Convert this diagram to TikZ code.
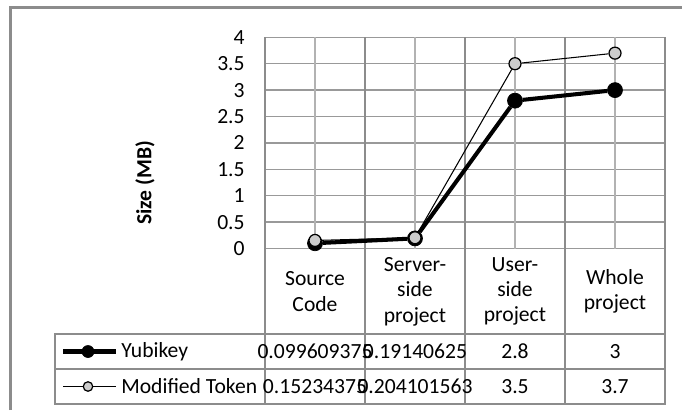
\documentclass[tikz,border=0pt]{standalone}
\usepackage{fontspec}
\setmainfont{Carlito}

\begin{document}
\begin{tikzpicture}[
  x=0.02cm, y=-0.02cm,
  font=\fontsize{12.3}{14.5}\selectfont,
  frameline/.style={draw=black!45,line width=1.2pt},
  gridline/.style={draw=black!30,line width=0.9pt},
  hgridline/.style={draw=black!40,line width=0.9pt},
  tableline/.style={draw=black!45,line width=0.9pt},
  ticklbl/.style={anchor=east,inner sep=0pt},
  cell/.style={align=center,inner sep=0pt},
  ykpt/.style={circle,fill=black,draw=black,inner sep=0pt,minimum size=0.3cm},
  mtpt/.style={circle,fill=black!20,draw=black,line width=0.7pt,inner sep=0pt,minimum size=0.24cm},
  ykline/.style={line width=2.3pt},
  mtline/.style={line width=0.6pt}
]
  \useasboundingbox (0,0) rectangle (682,410);
  \draw[frameline] (10.5,410) -- (10.5,7.5) -- (682,7.5);

  % grid
  \foreach \v in {0,0.5,...,4}
    \draw[hgridline] (265,{248.5-52.8*\v}) -- (665,{248.5-52.8*\v});
  \foreach \x in {315,415,515,615}
    \draw[gridline] (\x,37.3) -- (\x,248.5);
  \foreach \x in {265,365,465,565,665}
    \draw[tableline] (\x,37.3) -- (\x,404);
  \draw[tableline] (55,334) rectangle (665,404);
  \draw[tableline] (55,369) -- (665,369);

  % axis
  \foreach \v [count=\i] in {0,0.5,1,1.5,2,2.5,3,3.5,4}
    \node[ticklbl] (tick\i) at (245,{248.5-52.8*\v}) {\v};
  \node[rotate=90,font=\fontsize{12.3}{14.5}\selectfont\bfseries] (ytitle) at (145,183) {Size (MB)};

  % categories
  \node[cell] (cat1) at (315,291.4) {Source\\Code};
  \node[cell] (cat2) at (415,291.4) {Server-\\side\\project};
  \node[cell] (cat3) at (515,291.4) {User-\\side\\project};
  \node[cell] (cat4) at (615,291.4) {Whole\\project};

  % Yubikey
  \node[ykpt] (yk1) at (315,{248.5-52.8*0.099609375}) {};
  \node[ykpt] (yk2) at (415,{248.5-52.8*0.19140625}) {};
  \node[ykpt] (yk3) at (515,{248.5-52.8*2.8}) {};
  \node[ykpt] (yk4) at (615,{248.5-52.8*3}) {};
  \draw[ykline] (yk1) -- (yk2) -- (yk3) -- (yk4);

  % Modified Token
  \node[mtpt] (mt1) at (315,{248.5-52.8*0.15234375}) {};
  \node[mtpt] (mt2) at (415,{248.5-52.8*0.204101563}) {};
  \node[mtpt] (mt3) at (515,{248.5-52.8*3.5}) {};
  \node[mtpt] (mt4) at (615,{248.5-52.8*3.7}) {};
  \draw[mtline] (mt1) -- (mt2) -- (mt3) -- (mt4);

  % data table
  \coordinate (lgyka) at (63,351.5);
  \coordinate (lgykb) at (116,351.5);
  \draw[ykline] (lgyka) -- (lgykb);
  \node[ykpt,minimum size=0.24cm] (lgyk) at (88,351.5) {};
  \node[anchor=west,inner sep=0pt] (nmyk) at (121,351.5) {Yubikey};
  \coordinate (lgmta) at (63,386.5);
  \coordinate (lgmtb) at (116,386.5);
  \draw[mtline] (lgmta) -- (lgmtb);
  \node[mtpt,minimum size=0.19cm] (lgmt) at (88,386.5) {};
  \node[anchor=west,inner sep=0pt] (nmmt) at (121,386.5) {Modified Token};

  \node[cell] (vyk1) at (315,351.5) {0.099609375};
  \node[cell] (vyk2) at (415,351.5) {0.19140625};
  \node[cell] (vyk3) at (515,351.5) {2.8};
  \node[cell] (vyk4) at (615,351.5) {3};
  \node[cell] (vmt1) at (315,386.5) {0.15234375};
  \node[cell] (vmt2) at (415,386.5) {0.204101563};
  \node[cell] (vmt3) at (515,386.5) {3.5};
  \node[cell] (vmt4) at (615,386.5) {3.7};
\end{tikzpicture}
\end{document}
